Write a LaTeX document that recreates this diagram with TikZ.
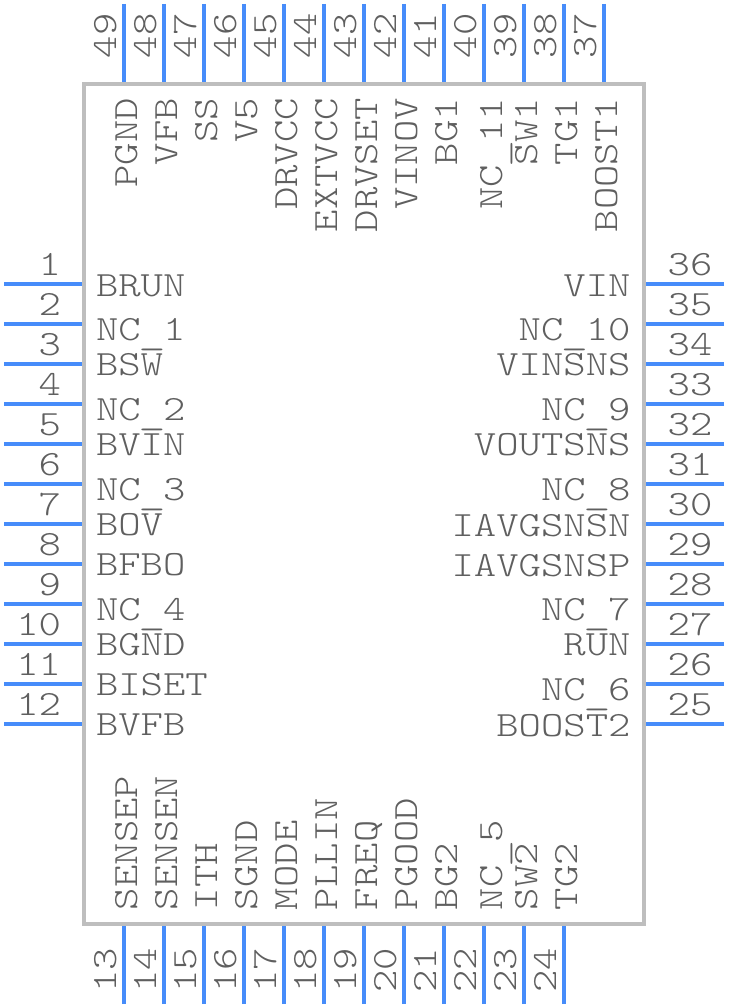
\documentclass[tikz,border=0pt]{standalone}
\usepackage{fontspec}
\setmonofont[FakeStretch=1.2]{Latin Modern Mono Light}
\definecolor{pinblue}{RGB}{70,140,250}
\definecolor{bodygray}{RGB}{190,190,190}
\definecolor{txtgray}{RGB}{95,95,95}
\newcommand\us{\raisebox{-4.5pt}{\makebox[22.36pt][c]{\scalebox{1.22}[1]{\_}}}}
\tikzset{
  pin/.style={draw=pinblue,line width=4pt},
  body/.style={draw=bodygray,line width=4pt,line join=miter},
  lab/.style={inner sep=0pt,outer sep=0pt,text=txtgray,font=\ttfamily\fontsize{35.5}{36}\selectfont},
}
\begin{document}
\begin{tikzpicture}[x=1pt,y=-1pt]
\useasboundingbox (0,0) rectangle (728,1008);
\draw[body] (84,84) rectangle (644,924);
% left pins
\foreach \n/\y in {1/284,2/324,3/364,4/404,5/444,6/484,7/524,8/564,9/604,10/644,11/684,12/724}{
  \coordinate (pin\n a) at (4,\y); \coordinate (pin\n b) at (82,\y);
  \draw[pin] (pin\n a) -- (pin\n b);
  \node[lab,anchor=base east] (num\n) at (61,\y-9) {\n};
}
% right pins
\foreach \n/\y in {36/284,35/324,34/364,33/404,32/444,31/484,30/524,29/564,28/604,27/644,26/684,25/724}{
  \coordinate (pin\n a) at (724,\y); \coordinate (pin\n b) at (646,\y);
  \draw[pin] (pin\n a) -- (pin\n b);
  \node[lab,anchor=base] (num\n) at (690,\y-9) {\n};
}
% top pins
\foreach \n/\x in {49/124,48/164,47/204,46/244,45/284,44/324,43/364,42/404,41/444,40/484,39/524,38/564,37/604}{
  \coordinate (pin\n a) at (\x,4); \coordinate (pin\n b) at (\x,82);
  \draw[pin] (pin\n a) -- (pin\n b);
  \node[lab,rotate=90,anchor=base] (num\n) at (\x-8,36) {\n};
}
% bottom pins
\foreach \n/\x in {13/124,14/164,15/204,16/244,17/284,18/324,19/364,20/404,21/444,22/484,23/524,24/564}{
  \coordinate (pin\n a) at (\x,1004); \coordinate (pin\n b) at (\x,926);
  \draw[pin] (pin\n a) -- (pin\n b);
  \node[lab,rotate=90,anchor=base] (num\n) at (\x-8,970) {\n};
}
% left labels
\foreach \t/\y [count=\i] in {BRUN/296,NC\us 1/340,BSW/375,NC\us 2/420,BVIN/455,NC\us 3/500,BOV/535,BFBO/575,NC\us 4/620,BGND/655,BISET/695,BVFB/735}{
  \node[lab,anchor=base west] (ll\i) at (96,\y) {\t};
}
% right labels
\foreach \t/\y [count=\i] in {VIN/296,NC\us 10/340,VINSNS/375,NC\us 9/420,VOUTSNS/455,NC\us 8/500,IAVGSNSN/536,IAVGSNSP/576,NC\us 7/620,RUN/655,NC\us 6/700,BOOST2/736}{
  \node[lab,anchor=base east] (rl\i) at (630.5,\y) {\t};
}
% top labels
\foreach \t/\x [count=\i] in {PGND/137,VFB/177,SS/217,V5/257,DRVCC/297,EXTVCC/337,DRVSET/377,VINOV/417,BG1/457,NC\us 11/502,SW1/537,TG1/577,BOOST1/617}{
  \node[lab,rotate=90,anchor=base east] (tl\i) at (\x,98) {\t};
}
% bottom labels
\foreach \t/\x [count=\i] in {SENSEP/137,SENSEN/177,ITH/217,SGND/257,MODE/297,PLLIN/337,FREQ/377,PGOOD/417,BG2/457,NC\us 5/502,SW2/537,TG2/577}{
  \node[lab,rotate=90,anchor=base west] (bl\i) at (\x,910) {\t};
}
\end{tikzpicture}
\end{document}
